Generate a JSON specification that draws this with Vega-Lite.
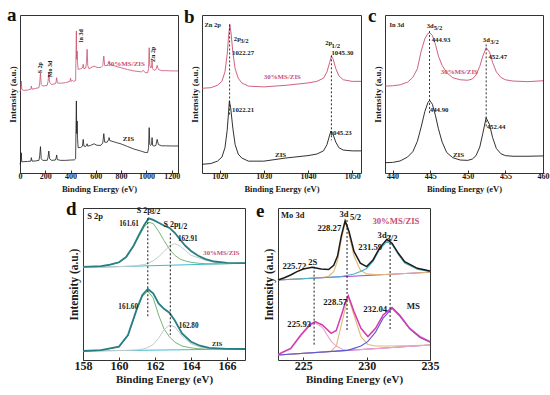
{
 "$schema": "https://vega.github.io/schema/vega-lite/v6.json",
 "padding": {"left": 6, "top": 5, "right": 2, "bottom": 2},
 "background": "white",
 "config": {
  "font": "Liberation Serif",
  "view": {"stroke": "#333", "strokeWidth": 1},
  "axis": {"labelFont": "Liberation Serif", "titleFont": "Liberation Serif", "labelFontWeight": "bold", "titleFontWeight": "bold", "labelColor": "#1a1a1a", "titleColor": "#1a1a1a", "grid": false, "domain": false, "tickColor": "#333", "labelOverlap": false, "labelFlush": false, "format": "d"},
  "text": {"font": "Liberation Serif", "fontWeight": "bold"}
 },
 "datasets": {
  "a": [
   {"x":0,"y":51.5,"s":"MS"},{"x":5,"y":53,"s":"MS"},{"x":10,"y":58.2,"s":"MS"},{"x":14,"y":53,"s":"MS"},{"x":30,"y":52.3,"s":"MS"},{"x":60,"y":52.5,"s":"MS"},{"x":85,"y":53,"s":"MS"},{"x":90,"y":55,"s":"MS"},{"x":95,"y":53,"s":"MS"},{"x":120,"y":53.5,"s":"MS"},{"x":150,"y":54,"s":"MS"},{"x":156,"y":57,"s":"MS"},{"x":162,"y":63.5,"s":"MS"},{"x":168,"y":56,"s":"MS"},{"x":180,"y":55,"s":"MS"},{"x":215,"y":55.5,"s":"MS"},{"x":222,"y":58,"s":"MS"},{"x":228,"y":63.5,"s":"MS"},{"x":234,"y":57.5,"s":"MS"},{"x":250,"y":56,"s":"MS"},{"x":280,"y":56.5,"s":"MS"},{"x":286,"y":58,"s":"MS"},{"x":290,"y":60.3,"s":"MS"},{"x":295,"y":57,"s":"MS"},{"x":320,"y":56.8,"s":"MS"},{"x":360,"y":57.2,"s":"MS"},{"x":395,"y":58,"s":"MS"},{"x":400,"y":60,"s":"MS"},{"x":405,"y":58,"s":"MS"},{"x":415,"y":58.5,"s":"MS"},{"x":425,"y":58,"s":"MS"},{"x":440,"y":58.5,"s":"MS"},{"x":443,"y":75,"s":"MS"},{"x":446,"y":89.9,"s":"MS"},{"x":449,"y":72,"s":"MS"},{"x":452,"y":77.2,"s":"MS"},{"x":455,"y":70,"s":"MS"},{"x":460,"y":65.6,"s":"MS"},{"x":480,"y":66,"s":"MS"},{"x":494,"y":66.5,"s":"MS"},{"x":500,"y":68.8,"s":"MS"},{"x":506,"y":66,"s":"MS"},{"x":520,"y":66.5,"s":"MS"},{"x":526,"y":70,"s":"MS"},{"x":531,"y":78.3,"s":"MS"},{"x":536,"y":68,"s":"MS"},{"x":545,"y":66,"s":"MS"},{"x":560,"y":66.6,"s":"MS"},{"x":585,"y":67.7,"s":"MS"},{"x":610,"y":66.8,"s":"MS"},{"x":640,"y":66.8,"s":"MS"},{"x":655,"y":68,"s":"MS"},{"x":663,"y":74,"s":"MS"},{"x":670,"y":68,"s":"MS"},{"x":690,"y":68,"s":"MS"},{"x":700,"y":69.5,"s":"MS"},{"x":705,"y":70.9,"s":"MS"},{"x":710,"y":69,"s":"MS"},{"x":720,"y":68.5,"s":"MS"},{"x":760,"y":67.5,"s":"MS"},{"x":800,"y":66.6,"s":"MS"},{"x":850,"y":65.5,"s":"MS"},{"x":900,"y":64.6,"s":"MS"},{"x":960,"y":64,"s":"MS"},{"x":975,"y":65,"s":"MS"},{"x":990,"y":63.5,"s":"MS"},{"x":1010,"y":63.5,"s":"MS"},{"x":1017,"y":66,"s":"MS"},{"x":1022,"y":79.3,"s":"MS"},{"x":1027,"y":68,"s":"MS"},{"x":1035,"y":66.5,"s":"MS"},{"x":1041,"y":67,"s":"MS"},{"x":1045,"y":70.9,"s":"MS"},{"x":1049,"y":66,"s":"MS"},{"x":1060,"y":65,"s":"MS"},{"x":1075,"y":65.5,"s":"MS"},{"x":1085,"y":68.1,"s":"MS"},{"x":1095,"y":65.5,"s":"MS"},{"x":1120,"y":64.8,"s":"MS"},{"x":1150,"y":64.8,"s":"MS"},{"x":1200,"y":64.6,"s":"MS"},{"x":1250,"y":64.6,"s":"MS"},
   {"x":0,"y":5.5,"s":"ZIS"},{"x":5,"y":7,"s":"ZIS"},{"x":10,"y":12.8,"s":"ZIS"},{"x":14,"y":7,"s":"ZIS"},{"x":30,"y":7.2,"s":"ZIS"},{"x":60,"y":7.3,"s":"ZIS"},{"x":85,"y":7.5,"s":"ZIS"},{"x":90,"y":9.7,"s":"ZIS"},{"x":95,"y":7.5,"s":"ZIS"},{"x":120,"y":7.6,"s":"ZIS"},{"x":150,"y":8,"s":"ZIS"},{"x":156,"y":11,"s":"ZIS"},{"x":162,"y":16.7,"s":"ZIS"},{"x":168,"y":9,"s":"ZIS"},{"x":180,"y":8,"s":"ZIS"},{"x":215,"y":8,"s":"ZIS"},{"x":222,"y":10,"s":"ZIS"},{"x":228,"y":13.9,"s":"ZIS"},{"x":234,"y":9,"s":"ZIS"},{"x":250,"y":8,"s":"ZIS"},{"x":280,"y":8.2,"s":"ZIS"},{"x":286,"y":9.5,"s":"ZIS"},{"x":290,"y":11.4,"s":"ZIS"},{"x":295,"y":8.5,"s":"ZIS"},{"x":320,"y":8,"s":"ZIS"},{"x":360,"y":8,"s":"ZIS"},{"x":400,"y":8.2,"s":"ZIS"},{"x":430,"y":8.3,"s":"ZIS"},{"x":440,"y":9,"s":"ZIS"},{"x":443,"y":28,"s":"ZIS"},{"x":446,"y":45.6,"s":"ZIS"},{"x":449,"y":25,"s":"ZIS"},{"x":452,"y":32.9,"s":"ZIS"},{"x":455,"y":22,"s":"ZIS"},{"x":460,"y":16,"s":"ZIS"},{"x":480,"y":16.2,"s":"ZIS"},{"x":494,"y":17,"s":"ZIS"},{"x":500,"y":21.3,"s":"ZIS"},{"x":506,"y":17,"s":"ZIS"},{"x":520,"y":16.8,"s":"ZIS"},{"x":526,"y":17.5,"s":"ZIS"},{"x":531,"y":18.5,"s":"ZIS"},{"x":536,"y":17,"s":"ZIS"},{"x":560,"y":17.5,"s":"ZIS"},{"x":585,"y":18.5,"s":"ZIS"},{"x":610,"y":17.5,"s":"ZIS"},{"x":640,"y":17.5,"s":"ZIS"},{"x":655,"y":19,"s":"ZIS"},{"x":663,"y":24.9,"s":"ZIS"},{"x":670,"y":19.5,"s":"ZIS"},{"x":690,"y":19.5,"s":"ZIS"},{"x":700,"y":21,"s":"ZIS"},{"x":705,"y":22.4,"s":"ZIS"},{"x":710,"y":20.5,"s":"ZIS"},{"x":720,"y":20.3,"s":"ZIS"},{"x":760,"y":19.3,"s":"ZIS"},{"x":800,"y":18.4,"s":"ZIS"},{"x":850,"y":16.8,"s":"ZIS"},{"x":900,"y":15.2,"s":"ZIS"},{"x":960,"y":13.8,"s":"ZIS"},{"x":990,"y":13,"s":"ZIS"},{"x":1010,"y":13,"s":"ZIS"},{"x":1017,"y":16,"s":"ZIS"},{"x":1022,"y":28.7,"s":"ZIS"},{"x":1027,"y":18,"s":"ZIS"},{"x":1035,"y":17.5,"s":"ZIS"},{"x":1041,"y":18,"s":"ZIS"},{"x":1045,"y":22.4,"s":"ZIS"},{"x":1049,"y":17.5,"s":"ZIS"},{"x":1060,"y":17,"s":"ZIS"},{"x":1075,"y":17.5,"s":"ZIS"},{"x":1085,"y":21.3,"s":"ZIS"},{"x":1095,"y":18,"s":"ZIS"},{"x":1120,"y":17.2,"s":"ZIS"},{"x":1150,"y":17.2,"s":"ZIS"},{"x":1200,"y":17.1,"s":"ZIS"},{"x":1250,"y":17.1,"s":"ZIS"}
  ],
  "at": [
   {"x":160,"y":66.6,"t":"S 2p","k":"vert"},{"x":239,"y":65.8,"t":"Mo 3d","k":"vert"},{"x":485,"y":86.7,"t":"In 3d","k":"vert"},{"x":1050,"y":75.1,"t":"Zn 2p","k":"vert"},
   {"x":839,"y":68.8,"t":"30%MS/ZIS","k":"ms"},{"x":858,"y":21.8,"t":"ZIS","k":"zis"}
  ],
  "al": [{"x":-102.8,"y":96.2,"t":"a"}],
  "bl": [{"x":1011.9,"y":94.9,"t":"b"}],
  "cl": [{"x":436.74,"y":95.6,"t":"c"}],
  "dl": [{"x":157.06,"y":93.5,"t":"d"}],
  "el": [{"x":221.26,"y":92.2,"t":"e"}],
  "b": [
   {"x":1016,"y":53.6,"s":"MS"},{"x":1018,"y":54,"s":"MS"},{"x":1019.5,"y":55.5,"s":"MS"},{"x":1020.5,"y":58,"s":"MS"},{"x":1021.2,"y":64,"s":"MS"},{"x":1021.7,"y":75,"s":"MS"},{"x":1022,"y":86,"s":"MS"},{"x":1022.3,"y":94,"s":"MS"},{"x":1022.6,"y":88,"s":"MS"},{"x":1023,"y":76,"s":"MS"},{"x":1023.5,"y":66,"s":"MS"},{"x":1024.2,"y":60,"s":"MS"},{"x":1025,"y":57,"s":"MS"},{"x":1026.5,"y":55,"s":"MS"},{"x":1030,"y":54.5,"s":"MS"},{"x":1035,"y":55.5,"s":"MS"},{"x":1040,"y":57,"s":"MS"},{"x":1042,"y":58,"s":"MS"},{"x":1043.5,"y":60,"s":"MS"},{"x":1044.3,"y":64,"s":"MS"},{"x":1044.9,"y":70,"s":"MS"},{"x":1045.3,"y":74,"s":"MS"},{"x":1045.7,"y":72,"s":"MS"},{"x":1046.3,"y":66,"s":"MS"},{"x":1047,"y":61.5,"s":"MS"},{"x":1048,"y":59,"s":"MS"},{"x":1050,"y":58,"s":"MS"},{"x":1052,"y":58,"s":"MS"},
   {"x":1016,"y":5.5,"s":"ZIS"},{"x":1018,"y":6,"s":"ZIS"},{"x":1019.5,"y":7.5,"s":"ZIS"},{"x":1020.5,"y":10,"s":"ZIS"},{"x":1021.2,"y":16,"s":"ZIS"},{"x":1021.7,"y":27,"s":"ZIS"},{"x":1022,"y":38,"s":"ZIS"},{"x":1022.2,"y":45.6,"s":"ZIS"},{"x":1022.5,"y":41,"s":"ZIS"},{"x":1023,"y":28,"s":"ZIS"},{"x":1023.5,"y":18,"s":"ZIS"},{"x":1024.2,"y":12,"s":"ZIS"},{"x":1025,"y":9.5,"s":"ZIS"},{"x":1026.5,"y":7.5,"s":"ZIS"},{"x":1030,"y":7.5,"s":"ZIS"},{"x":1035,"y":9.5,"s":"ZIS"},{"x":1040,"y":11,"s":"ZIS"},{"x":1042,"y":12,"s":"ZIS"},{"x":1043.5,"y":14,"s":"ZIS"},{"x":1044.3,"y":18,"s":"ZIS"},{"x":1044.9,"y":24,"s":"ZIS"},{"x":1045.2,"y":26.6,"s":"ZIS"},{"x":1045.6,"y":25,"s":"ZIS"},{"x":1046.3,"y":19.5,"s":"ZIS"},{"x":1047,"y":16,"s":"ZIS"},{"x":1048,"y":14.5,"s":"ZIS"},{"x":1050,"y":14,"s":"ZIS"},{"x":1052,"y":14,"s":"ZIS"}
  ],
  "br": [{"x":1022.25,"y":94,"y2":36},{"x":1045.3,"y":74.5,"y2":20.7}],
  "bt": [
   {"x":1018.4,"y":93.4,"t":"Zn 2p","k":"hd"},
   {"x":1024.0,"y":85.1,"t":"2p","k":"lab"},{"x":1025.6,"y":83.5,"t":"3/2","k":"sub"},
   {"x":1025.3,"y":75.8,"t":"1022.27","k":"val"},
   {"x":1044.7,"y":82.1,"t":"2p","k":"lab"},{"x":1046.3,"y":80.6,"t":"1/2","k":"sub"},
   {"x":1047.8,"y":75.8,"t":"1045.30","k":"val"},
   {"x":1034.2,"y":60.8,"t":"30%MS/ZIS","k":"ms"},
   {"x":1025.3,"y":39.9,"t":"1022.21","k":"val"},
   {"x":1047.4,"y":25.1,"t":"1045.23","k":"val"},
   {"x":1033.8,"y":11.4,"t":"ZIS","k":"zis"}
  ],
  "c": [
   {"x":439,"y":55,"s":"MS"},{"x":440,"y":55.2,"s":"MS"},{"x":441,"y":55.8,"s":"MS"},{"x":442,"y":57.5,"s":"MS"},{"x":442.7,"y":60.5,"s":"MS"},{"x":443.3,"y":66,"s":"MS"},{"x":443.8,"y":77,"s":"MS"},{"x":444.3,"y":85,"s":"MS"},{"x":444.7,"y":88.3,"s":"MS"},{"x":444.95,"y":88.8,"s":"MS"},{"x":445.3,"y":87,"s":"MS"},{"x":445.7,"y":81.5,"s":"MS"},{"x":446.1,"y":74,"s":"MS"},{"x":446.6,"y":68,"s":"MS"},{"x":447.2,"y":63.5,"s":"MS"},{"x":448,"y":60.3,"s":"MS"},{"x":449,"y":59,"s":"MS"},{"x":450,"y":58.7,"s":"MS"},{"x":450.6,"y":59.5,"s":"MS"},{"x":451.1,"y":62,"s":"MS"},{"x":451.6,"y":67.5,"s":"MS"},{"x":452,"y":74,"s":"MS"},{"x":452.45,"y":79.3,"s":"MS"},{"x":452.9,"y":76.5,"s":"MS"},{"x":453.3,"y":70,"s":"MS"},{"x":453.8,"y":64,"s":"MS"},{"x":454.4,"y":60.5,"s":"MS"},{"x":455,"y":59,"s":"MS"},{"x":456,"y":58.2,"s":"MS"},{"x":458,"y":57.8,"s":"MS"},{"x":460,"y":58.4,"s":"MS"},
   {"x":439,"y":6.5,"s":"ZIS"},{"x":440,"y":6.7,"s":"ZIS"},{"x":441,"y":7.6,"s":"ZIS"},{"x":442,"y":10.1,"s":"ZIS"},{"x":442.7,"y":13.5,"s":"ZIS"},{"x":443.3,"y":20,"s":"ZIS"},{"x":443.8,"y":29,"s":"ZIS"},{"x":444.3,"y":39,"s":"ZIS"},{"x":444.7,"y":44.5,"s":"ZIS"},{"x":444.93,"y":46,"s":"ZIS"},{"x":445.3,"y":43.5,"s":"ZIS"},{"x":445.7,"y":36.5,"s":"ZIS"},{"x":446.1,"y":28,"s":"ZIS"},{"x":446.6,"y":19.5,"s":"ZIS"},{"x":447.2,"y":13,"s":"ZIS"},{"x":448,"y":9.7,"s":"ZIS"},{"x":449,"y":8.2,"s":"ZIS"},{"x":450,"y":8,"s":"ZIS"},{"x":450.6,"y":8.8,"s":"ZIS"},{"x":451.1,"y":11,"s":"ZIS"},{"x":451.6,"y":16.5,"s":"ZIS"},{"x":452,"y":25,"s":"ZIS"},{"x":452.44,"y":35,"s":"ZIS"},{"x":452.9,"y":30.5,"s":"ZIS"},{"x":453.3,"y":22.5,"s":"ZIS"},{"x":453.8,"y":15.5,"s":"ZIS"},{"x":454.4,"y":12.2,"s":"ZIS"},{"x":455,"y":11,"s":"ZIS"},{"x":456,"y":10.6,"s":"ZIS"},{"x":458,"y":10.6,"s":"ZIS"},{"x":460,"y":10.8,"s":"ZIS"}
  ],
  "cr": [{"x":444.92,"y":89.9,"y2":37.1},{"x":452.45,"y":81.4,"y2":28.7}],
  "ct": [
   {"x":440.57,"y":93.7,"t":"In 3d","k":"hd"},
   {"x":445.0,"y":93.0,"t":"3d","k":"lab"},{"x":446.05,"y":91.6,"t":"5/2","k":"sub"},
   {"x":446.45,"y":84.2,"t":"444.93","k":"val"},
   {"x":452.47,"y":84.2,"t":"3d","k":"lab"},{"x":453.55,"y":82.7,"t":"3/2","k":"sub"},
   {"x":453.99,"y":73.6,"t":"452.47","k":"val"},
   {"x":448.88,"y":64.1,"t":"30%MS/ZIS","k":"ms"},
   {"x":446.2,"y":39.9,"t":"444.90","k":"val"},
   {"x":453.76,"y":29.3,"t":"452.44","k":"val"},
   {"x":448.78,"y":11.4,"t":"ZIS","k":"zis"}
  ],
  "dc": [
   {"x":158,"y":59.6,"s":"Bu"},{"x":167,"y":62.4,"s":"Bu"},
   {"x":158,"y":59.7,"s":"G1u"},{"x":159,"y":60.3,"s":"G1u"},{"x":159.5,"y":61.3,"s":"G1u"},{"x":160,"y":62.8,"s":"G1u"},{"x":160.4,"y":66,"s":"G1u"},{"x":160.8,"y":73,"s":"G1u"},{"x":161.1,"y":79.5,"s":"G1u"},{"x":161.4,"y":85.8,"s":"G1u"},{"x":161.65,"y":88.8,"s":"G1u"},{"x":161.9,"y":88,"s":"G1u"},{"x":162.2,"y":83,"s":"G1u"},{"x":162.5,"y":77,"s":"G1u"},{"x":162.8,"y":71.5,"s":"G1u"},{"x":163.1,"y":67.5,"s":"G1u"},{"x":163.4,"y":65,"s":"G1u"},{"x":163.7,"y":63.8,"s":"G1u"},{"x":164,"y":63,"s":"G1u"},{"x":164.4,"y":62.4,"s":"G1u"},{"x":164.8,"y":62.1,"s":"G1u"},{"x":165.3,"y":62,"s":"G1u"},{"x":166,"y":62.1,"s":"G1u"},{"x":167,"y":62.4,"s":"G1u"},
   {"x":158,"y":59.6,"s":"G2u"},{"x":160,"y":60.2,"s":"G2u"},{"x":160.8,"y":60.6,"s":"G2u"},{"x":161.4,"y":61.5,"s":"G2u"},{"x":161.65,"y":62.5,"s":"G2u"},{"x":161.9,"y":64,"s":"G2u"},{"x":162.2,"y":66.5,"s":"G2u"},{"x":162.5,"y":70,"s":"G2u"},{"x":162.8,"y":73.5,"s":"G2u"},{"x":163.1,"y":75,"s":"G2u"},{"x":163.4,"y":73.5,"s":"G2u"},{"x":163.7,"y":70.5,"s":"G2u"},{"x":164,"y":67.5,"s":"G2u"},{"x":164.4,"y":66,"s":"G2u"},{"x":164.8,"y":64.3,"s":"G2u"},{"x":165.3,"y":63,"s":"G2u"},{"x":166,"y":62.2,"s":"G2u"},{"x":167,"y":62.4,"s":"G2u"},
   {"x":158,"y":5.8,"s":"Bl"},{"x":167,"y":7.1,"s":"Bl"},
   {"x":158,"y":5.8,"s":"G1l"},{"x":159,"y":6.2,"s":"G1l"},{"x":160,"y":8.5,"s":"G1l"},{"x":160.5,"y":15.8,"s":"G1l"},{"x":161,"y":32.8,"s":"G1l"},{"x":161.3,"y":41,"s":"G1l"},{"x":161.6,"y":44.5,"s":"G1l"},{"x":161.9,"y":40,"s":"G1l"},{"x":162.2,"y":29,"s":"G1l"},{"x":162.5,"y":20,"s":"G1l"},{"x":162.8,"y":15,"s":"G1l"},{"x":163.1,"y":11.5,"s":"G1l"},{"x":163.5,"y":9,"s":"G1l"},{"x":164,"y":7.8,"s":"G1l"},{"x":164.5,"y":7.2,"s":"G1l"},{"x":165,"y":7,"s":"G1l"},{"x":166,"y":7,"s":"G1l"},{"x":167,"y":7.1,"s":"G1l"},
   {"x":158,"y":5.8,"s":"G2l"},{"x":160.5,"y":6.2,"s":"G2l"},{"x":161,"y":6.5,"s":"G2l"},{"x":161.3,"y":7,"s":"G2l"},{"x":161.6,"y":8,"s":"G2l"},{"x":161.9,"y":10,"s":"G2l"},{"x":162.2,"y":14,"s":"G2l"},{"x":162.5,"y":19.5,"s":"G2l"},{"x":162.8,"y":22.5,"s":"G2l"},{"x":163.1,"y":21.5,"s":"G2l"},{"x":163.5,"y":15.5,"s":"G2l"},{"x":164,"y":10.5,"s":"G2l"},{"x":164.5,"y":8.3,"s":"G2l"},{"x":165,"y":7.3,"s":"G2l"},{"x":166,"y":7,"s":"G2l"},{"x":167,"y":7.1,"s":"G2l"}
  ],
  "de": [
   {"x":158,"y":60,"s":"Eu"},{"x":159,"y":60.5,"s":"Eu"},{"x":159.5,"y":61.5,"s":"Eu"},{"x":160,"y":63,"s":"Eu"},{"x":160.4,"y":66.5,"s":"Eu"},{"x":160.8,"y":73.5,"s":"Eu"},{"x":161.1,"y":80.5,"s":"Eu"},{"x":161.4,"y":87,"s":"Eu"},{"x":161.65,"y":91.3,"s":"Eu"},{"x":161.9,"y":90.3,"s":"Eu"},{"x":162.2,"y":88.5,"s":"Eu"},{"x":162.5,"y":86.7,"s":"Eu"},{"x":162.8,"y":85.2,"s":"Eu"},{"x":163.1,"y":82,"s":"Eu"},{"x":163.4,"y":77.5,"s":"Eu"},{"x":163.7,"y":73.5,"s":"Eu"},{"x":164,"y":70.3,"s":"Eu"},{"x":164.4,"y":67.2,"s":"Eu"},{"x":164.8,"y":65,"s":"Eu"},{"x":165.3,"y":63.5,"s":"Eu"},{"x":166,"y":62.6,"s":"Eu"},{"x":167,"y":62.5,"s":"Eu"},
   {"x":158,"y":5.8,"s":"El"},{"x":159,"y":6.4,"s":"El"},{"x":160,"y":8.6,"s":"El"},{"x":160.5,"y":16.1,"s":"El"},{"x":161,"y":33.3,"s":"El"},{"x":161.3,"y":41.9,"s":"El"},{"x":161.6,"y":45.8,"s":"El"},{"x":161.9,"y":43,"s":"El"},{"x":162.2,"y":36.5,"s":"El"},{"x":162.5,"y":33,"s":"El"},{"x":162.8,"y":30.5,"s":"El"},{"x":163.1,"y":25.5,"s":"El"},{"x":163.5,"y":17.2,"s":"El"},{"x":164,"y":11.8,"s":"El"},{"x":164.5,"y":9.2,"s":"El"},{"x":165,"y":7.8,"s":"El"},{"x":166,"y":7.2,"s":"El"},{"x":167,"y":7.1,"s":"El"}
  ],
  "dr": [{"x":161.6,"y":91.4,"y2":26.9},{"x":162.85,"y":81.7,"y2":16.1}],
  "dt": [
   {"x":158.67,"y":93.1,"t":"S 2p","k":"hd"},
   {"x":161.4,"y":96.3,"t":"S 2p","k":"lab"},{"x":162.02,"y":95.2,"t":"3/2","k":"sub"},
   {"x":160.56,"y":87.7,"t":"161.61","k":"val"},
   {"x":162.89,"y":87.1,"t":"S 2p","k":"lab"},{"x":163.52,"y":86,"t":"1/2","k":"sub"},
   {"x":163.82,"y":78.1,"t":"162.91","k":"val"},
   {"x":165.69,"y":68.8,"t":"30%MS/ZIS","k":"ms"},
   {"x":160.51,"y":34,"t":"161.60","k":"val"},
   {"x":163.87,"y":22.2,"t":"162.80","k":"val"},
   {"x":165.45,"y":10.3,"t":"ZIS","k":"zis"}
  ],
  "ec": [
   {"x":223,"y":51.6,"s":"Bu"},{"x":235,"y":56.6,"s":"Bu"},
   {"x":223,"y":51.6,"s":"Tu"},{"x":226.5,"y":53.2,"s":"Tu"},{"x":227,"y":54,"s":"Tu"},{"x":227.4,"y":57,"s":"Tu"},{"x":227.7,"y":64,"s":"Tu"},{"x":228,"y":77.5,"s":"Tu"},{"x":228.3,"y":88.8,"s":"Tu"},{"x":228.6,"y":81.5,"s":"Tu"},{"x":229,"y":67,"s":"Tu"},{"x":229.5,"y":58,"s":"Tu"},{"x":230,"y":55.5,"s":"Tu"},{"x":231,"y":55,"s":"Tu"},{"x":233,"y":55.8,"s":"Tu"},{"x":235,"y":56.6,"s":"Tu"},
   {"x":223,"y":51.6,"s":"Cu"},{"x":226,"y":52.9,"s":"Cu"},{"x":228,"y":53.8,"s":"Cu"},{"x":229,"y":55.5,"s":"Cu"},{"x":229.5,"y":57,"s":"Cu"},{"x":230,"y":59,"s":"Cu"},{"x":230.5,"y":63.5,"s":"Cu"},{"x":231,"y":71,"s":"Cu"},{"x":231.6,"y":76.5,"s":"Cu"},{"x":232,"y":74.5,"s":"Cu"},{"x":232.5,"y":68,"s":"Cu"},{"x":233,"y":62.5,"s":"Cu"},{"x":234,"y":58.5,"s":"Cu"},{"x":235,"y":57,"s":"Cu"},
   {"x":223,"y":3.2,"s":"Bl"},{"x":235,"y":9.7,"s":"Bl"},
   {"x":223,"y":3.4,"s":"Pl"},{"x":224,"y":7,"s":"Pl"},{"x":224.8,"y":15.5,"s":"Pl"},{"x":225.5,"y":22,"s":"Pl"},{"x":225.93,"y":24,"s":"Pl"},{"x":226.5,"y":21,"s":"Pl"},{"x":227.2,"y":12,"s":"Pl"},{"x":227.6,"y":9,"s":"Pl"},{"x":228.1,"y":6.8,"s":"Pl"},{"x":228.6,"y":6.5,"s":"Pl"},{"x":229.5,"y":6.7,"s":"Pl"},{"x":235,"y":9.7,"s":"Pl"},
   {"x":223,"y":3.2,"s":"Tl"},{"x":226.5,"y":5.1,"s":"Tl"},{"x":227.2,"y":5.8,"s":"Tl"},{"x":227.6,"y":9,"s":"Tl"},{"x":228.1,"y":26,"s":"Tl"},{"x":228.3,"y":33,"s":"Tl"},{"x":228.55,"y":40.5,"s":"Tl"},{"x":229,"y":29,"s":"Tl"},{"x":229.55,"y":15,"s":"Tl"},{"x":230.1,"y":10,"s":"Tl"},{"x":230.7,"y":9,"s":"Tl"},{"x":232,"y":9,"s":"Tl"},{"x":233,"y":9.2,"s":"Tl"},{"x":235,"y":9.7,"s":"Tl"},
   {"x":223,"y":3.2,"s":"Vl"},{"x":228.5,"y":6.2,"s":"Vl"},{"x":229,"y":7.5,"s":"Vl"},{"x":229.55,"y":9,"s":"Vl"},{"x":230.1,"y":12,"s":"Vl"},{"x":230.7,"y":18,"s":"Vl"},{"x":231.3,"y":27,"s":"Vl"},{"x":232,"y":33.3,"s":"Vl"},{"x":232.6,"y":28.5,"s":"Vl"},{"x":233.4,"y":20,"s":"Vl"},{"x":234.2,"y":14.5,"s":"Vl"},{"x":235,"y":11.5,"s":"Vl"}
  ],
  "ee": [
   {"x":223,"y":51.6,"s":"Eu"},{"x":223.5,"y":53,"s":"Eu"},{"x":224,"y":54.8,"s":"Eu"},{"x":224.5,"y":57,"s":"Eu"},{"x":225,"y":58.7,"s":"Eu"},{"x":225.7,"y":59.8,"s":"Eu"},{"x":226.4,"y":58.7,"s":"Eu"},{"x":227,"y":58.3,"s":"Eu"},{"x":227.4,"y":61,"s":"Eu"},{"x":227.7,"y":67,"s":"Eu"},{"x":228,"y":80,"s":"Eu"},{"x":228.3,"y":89.7,"s":"Eu"},{"x":228.6,"y":83,"s":"Eu"},{"x":229,"y":70,"s":"Eu"},{"x":229.5,"y":62.4,"s":"Eu"},{"x":230,"y":60.2,"s":"Eu"},{"x":230.5,"y":64.5,"s":"Eu"},{"x":231,"y":72,"s":"Eu"},{"x":231.6,"y":77.8,"s":"Eu"},{"x":232,"y":75.3,"s":"Eu"},{"x":232.5,"y":68.8,"s":"Eu"},{"x":233,"y":63.4,"s":"Eu"},{"x":234,"y":59.1,"s":"Eu"},{"x":235,"y":57.4,"s":"Eu"},
   {"x":223,"y":3.6,"s":"El"},{"x":224,"y":7.5,"s":"El"},{"x":224.8,"y":16.1,"s":"El"},{"x":225.5,"y":22.6,"s":"El"},{"x":225.93,"y":24.7,"s":"El"},{"x":226.5,"y":22.6,"s":"El"},{"x":227.2,"y":17.2,"s":"El"},{"x":227.6,"y":19,"s":"El"},{"x":228.1,"y":31.2,"s":"El"},{"x":228.3,"y":37,"s":"El"},{"x":228.55,"y":41.5,"s":"El"},{"x":229,"y":31.2,"s":"El"},{"x":229.55,"y":20.4,"s":"El"},{"x":230.1,"y":15.1,"s":"El"},{"x":230.7,"y":20.4,"s":"El"},{"x":231.3,"y":29,"s":"El"},{"x":232,"y":33.8,"s":"El"},{"x":232.6,"y":29,"s":"El"},{"x":233.4,"y":20.4,"s":"El"},{"x":234.2,"y":15.1,"s":"El"},{"x":235,"y":11.8,"s":"El"}
  ],
  "er": [{"x":225.85,"y":60.2,"y2":9.7},{"x":228.45,"y":90.3,"y2":18.3},{"x":231.85,"y":80.6,"y2":19.4}],
  "et": [
   {"x":224.16,"y":93.5,"t":"Mo 3d","k":"hd"},
   {"x":228.21,"y":94.2,"t":"3d","k":"lab"},{"x":229.12,"y":92,"t":"5/2","k":"sub"},
   {"x":227.05,"y":85,"t":"228.27","k":"val"},
   {"x":232.31,"y":89.9,"t":"30%MS/ZIS","k":"ms"},
   {"x":231.22,"y":80.6,"t":"3d","k":"lab"},{"x":232.0,"y":78.9,"t":"3/2","k":"sub"},
   {"x":230.28,"y":73.1,"t":"231.59","k":"val"},
   {"x":225.74,"y":63.4,"t":"2S","k":"lab"},
   {"x":224.29,"y":60.9,"t":"225.72","k":"val"},
   {"x":227.51,"y":37.2,"t":"228.57","k":"val"},
   {"x":230.67,"y":32.9,"t":"232.04","k":"val"},
   {"x":233.69,"y":35,"t":"MS","k":"zis"},
   {"x":224.68,"y":23.2,"t":"225.93","k":"val"}
  ]
 },
 "spacing": 5,
 "resolve": {"scale": {"color": "independent", "size": "independent"}},
 "vconcat": [
  {
   "spacing": 24,
   "bounds": "flush",
   "resolve": {"scale": {"color": "independent", "size": "independent"}},
   "hconcat": [
    {
     "width": 158, "height": 158,
     "layer": [
      {"data": {"name": "a"}, "mark": {"type": "line", "strokeWidth": 0.8},
       "encoding": {
        "x": {"field": "x", "type": "quantitative", "scale": {"domain": [0, 1250], "nice": false, "zero": false}, "axis": {"title": "Binding Energy (eV)", "values": [0, 200, 400, 600, 800, 1000, 1200], "tickCount": 30, "labelOverlap": false, "tickSize": -3, "labelFontSize": 8, "titleFontSize": 8.5, "labelPadding": 2.5, "titlePadding": 4}},
        "y": {"field": "y", "type": "quantitative", "scale": {"domain": [0, 100], "nice": false}, "axis": {"title": "Intensity (a.u.)", "labels": false, "ticks": false, "titleFontSize": 9, "titlePadding": 3}},
        "color": {"field": "s", "type": "nominal", "scale": {"domain": ["MS", "ZIS", "ms", "zis"], "range": ["#c95070", "#1a1a1a", "#c95070", "#1a1a1a"]}, "legend": null}}},
      {"data": {"name": "at"}, "transform": [{"filter": "datum.k == 'vert'"}], "mark": {"type": "text", "angle": 270, "fontSize": 6, "color": "#1a1a1a", "baseline": "middle"},
       "encoding": {"x": {"field": "x", "type": "quantitative"}, "y": {"field": "y", "type": "quantitative"}, "text": {"field": "t"}}},
      {"data": {"name": "at"}, "transform": [{"filter": "datum.k != 'vert'"}], "mark": {"type": "text", "fontSize": 7, "baseline": "middle"},
       "encoding": {"x": {"field": "x", "type": "quantitative"}, "y": {"field": "y", "type": "quantitative"}, "text": {"field": "t"},
        "color": {"field": "k", "type": "nominal", "scale": {"domain": ["MS", "ZIS", "ms", "zis"], "range": ["#c95070", "#1a1a1a", "#c95070", "#1a1a1a"]}, "legend": null}}},
      {"data": {"name": "al"}, "mark": {"type": "text", "fontSize": 19, "align": "left", "baseline": "alphabetic", "color": "#111"},
       "encoding": {"x": {"field": "x", "type": "quantitative", "scale": {"domain": [0, 1250], "nice": false, "zero": false}}, "y": {"field": "y", "type": "quantitative", "scale": {"domain": [0, 100], "nice": false}}, "text": {"field": "t"}}}
     ]
    },
    {
     "width": 159, "height": 158,
     "layer": [
      {"data": {"name": "b"}, "mark": {"type": "line", "strokeWidth": 0.9},
       "encoding": {
        "x": {"field": "x", "type": "quantitative", "scale": {"domain": [1016, 1052], "nice": false, "zero": false}, "axis": {"title": "Binding Energy (eV)", "values": [1020, 1030, 1040, 1050], "tickCount": 30, "labelOverlap": false, "tickSize": -3, "labelFontSize": 8, "titleFontSize": 8.5, "labelPadding": 2.5, "titlePadding": 4}},
        "y": {"field": "y", "type": "quantitative", "scale": {"domain": [0, 100], "nice": false}, "axis": {"title": "Intensity (a.u.)", "labels": false, "ticks": false, "titleFontSize": 9, "titlePadding": 3}},
        "color": {"field": "s", "type": "nominal", "scale": {"domain": ["MS", "ZIS", "hd", "lab", "sub", "val", "ms", "zis"], "range": ["#c95070", "#1a1a1a", "#1a1a1a", "#1a1a1a", "#1a1a1a", "#1a1a1a", "#c95070", "#1a1a1a"]}, "legend": null}}},
      {"data": {"name": "br"}, "mark": {"type": "rule", "strokeDash": [2, 2], "color": "#1a1a1a", "strokeWidth": 0.9},
       "encoding": {"x": {"field": "x", "type": "quantitative"}, "y": {"field": "y", "type": "quantitative"}, "y2": {"field": "y2"}}},
      {"data": {"name": "bt"}, "mark": {"type": "text", "baseline": "middle"},
       "encoding": {"x": {"field": "x", "type": "quantitative"}, "y": {"field": "y", "type": "quantitative"}, "text": {"field": "t"},
        "color": {"field": "k", "type": "nominal", "scale": {"domain": ["MS", "ZIS", "hd", "lab", "sub", "val", "ms", "zis"], "range": ["#c95070", "#1a1a1a", "#1a1a1a", "#1a1a1a", "#1a1a1a", "#1a1a1a", "#c95070", "#1a1a1a"]}, "legend": null},
        "size": {"field": "k", "type": "ordinal", "scale": {"domain": ["hd", "lab", "sub", "val", "ms", "zis"], "range": [6.5, 7, 5, 5.8, 7, 7]}, "legend": null}}},
      {"data": {"name": "bl"}, "mark": {"type": "text", "fontSize": 19, "align": "left", "baseline": "alphabetic", "color": "#111"},
       "encoding": {"x": {"field": "x", "type": "quantitative", "scale": {"domain": [1016, 1052], "nice": false, "zero": false}}, "y": {"field": "y", "type": "quantitative", "scale": {"domain": [0, 100], "nice": false}}, "text": {"field": "t"}}}
     ]
    },
    {
     "width": 158, "height": 158,
     "layer": [
      {"data": {"name": "c"}, "mark": {"type": "line", "strokeWidth": 0.9},
       "encoding": {
        "x": {"field": "x", "type": "quantitative", "scale": {"domain": [439, 460], "nice": false, "zero": false}, "axis": {"title": "Binding Energy (eV)", "values": [440, 445, 450, 455, 460], "tickCount": 30, "labelOverlap": false, "tickSize": -3, "labelFontSize": 8, "titleFontSize": 8.5, "labelPadding": 2.5, "titlePadding": 4}},
        "y": {"field": "y", "type": "quantitative", "scale": {"domain": [0, 100], "nice": false}, "axis": {"title": "Intensity (a.u.)", "labels": false, "ticks": false, "titleFontSize": 9, "titlePadding": 3}},
        "color": {"field": "s", "type": "nominal", "scale": {"domain": ["MS", "ZIS", "hd", "lab", "sub", "val", "ms", "zis"], "range": ["#c95070", "#1a1a1a", "#1a1a1a", "#1a1a1a", "#1a1a1a", "#1a1a1a", "#c95070", "#1a1a1a"]}, "legend": null}}},
      {"data": {"name": "cr"}, "mark": {"type": "rule", "strokeDash": [2, 2], "color": "#1a1a1a", "strokeWidth": 0.9},
       "encoding": {"x": {"field": "x", "type": "quantitative"}, "y": {"field": "y", "type": "quantitative"}, "y2": {"field": "y2"}}},
      {"data": {"name": "ct"}, "mark": {"type": "text", "baseline": "middle"},
       "encoding": {"x": {"field": "x", "type": "quantitative"}, "y": {"field": "y", "type": "quantitative"}, "text": {"field": "t"},
        "color": {"field": "k", "type": "nominal", "scale": {"domain": ["MS", "ZIS", "hd", "lab", "sub", "val", "ms", "zis"], "range": ["#c95070", "#1a1a1a", "#1a1a1a", "#1a1a1a", "#1a1a1a", "#1a1a1a", "#c95070", "#1a1a1a"]}, "legend": null},
        "size": {"field": "k", "type": "ordinal", "scale": {"domain": ["hd", "lab", "sub", "val", "ms", "zis"], "range": [6.5, 7, 5, 5.8, 7, 7]}, "legend": null}}},
      {"data": {"name": "cl"}, "mark": {"type": "text", "fontSize": 19, "align": "left", "baseline": "alphabetic", "color": "#111"},
       "encoding": {"x": {"field": "x", "type": "quantitative", "scale": {"domain": [439, 460], "nice": false, "zero": false}}, "y": {"field": "y", "type": "quantitative", "scale": {"domain": [0, 100], "nice": false}}, "text": {"field": "t"}}}
     ]
    }
   ]
  },
  {
   "spacing": 33,
   "bounds": "flush",
   "resolve": {"scale": {"color": "independent", "size": "independent"}},
   "hconcat": [
    {"width": 30, "height": 20, "data": {"values": []}, "mark": {"type": "point", "opacity": 0}, "view": {"stroke": null}},
    {
     "width": 162, "height": 152,
     "layer": [
      {"data": {"name": "dc"}, "mark": {"type": "line", "strokeWidth": 1},
       "encoding": {
        "x": {"field": "x", "type": "quantitative", "scale": {"domain": [158, 167], "nice": false, "zero": false}, "axis": {"title": "Binding Energy (eV)", "values": [158, 160, 162, 164, 166], "tickCount": 30, "labelOverlap": false, "tickSize": -3, "labelFontSize": 12, "titleFontSize": 11, "labelPadding": 3, "titlePadding": 2}},
        "y": {"field": "y", "type": "quantitative", "scale": {"domain": [0, 98], "nice": false}, "axis": {"title": "Intensity (a.u.)", "labels": false, "ticks": false, "titleFontSize": 11.5, "titlePadding": 4}},
        "color": {"field": "s", "type": "nominal", "scale": {"domain": ["Bu", "G1u", "G2u", "Eu", "Bl", "G1l", "G2l", "El", "hd", "lab", "sub", "val", "ms", "zis"], "range": ["#3fbccc", "#78b478", "#c3cbcb", "#267f82", "#3fbccc", "#78b478", "#c3cbcb", "#267f82", "#1a1a1a", "#1a1a1a", "#1a1a1a", "#1a1a1a", "#c95070", "#1a1a1a"]}, "legend": null}}},
      {"data": {"name": "de"}, "mark": {"type": "line", "strokeWidth": 1.8},
       "encoding": {"x": {"field": "x", "type": "quantitative"}, "y": {"field": "y", "type": "quantitative"},
        "color": {"field": "s", "type": "nominal", "scale": {"domain": ["Bu", "G1u", "G2u", "Eu", "Bl", "G1l", "G2l", "El", "hd", "lab", "sub", "val", "ms", "zis"], "range": ["#3fbccc", "#78b478", "#c3cbcb", "#267f82", "#3fbccc", "#78b478", "#c3cbcb", "#267f82", "#1a1a1a", "#1a1a1a", "#1a1a1a", "#1a1a1a", "#c95070", "#1a1a1a"]}, "legend": null}}},
      {"data": {"name": "dr"}, "mark": {"type": "rule", "strokeDash": [2, 2], "color": "#1a1a1a", "strokeWidth": 1},
       "encoding": {"x": {"field": "x", "type": "quantitative"}, "y": {"field": "y", "type": "quantitative"}, "y2": {"field": "y2"}}},
      {"data": {"name": "dt"}, "mark": {"type": "text", "baseline": "middle"},
       "encoding": {"x": {"field": "x", "type": "quantitative"}, "y": {"field": "y", "type": "quantitative"}, "text": {"field": "t"},
        "color": {"field": "k", "type": "nominal", "scale": {"domain": ["Bu", "G1u", "G2u", "Eu", "Bl", "G1l", "G2l", "El", "hd", "lab", "sub", "val", "ms", "zis"], "range": ["#3fbccc", "#78b478", "#c3cbcb", "#267f82", "#3fbccc", "#78b478", "#c3cbcb", "#267f82", "#1a1a1a", "#1a1a1a", "#1a1a1a", "#1a1a1a", "#c95070", "#1a1a1a"]}, "legend": null},
        "size": {"field": "k", "type": "ordinal", "scale": {"domain": ["hd", "lab", "sub", "val", "ms", "zis"], "range": [8.5, 6.3, 4.5, 6, 8, 7.5]}, "legend": null}}},
      {"data": {"name": "dl"}, "mark": {"type": "text", "fontSize": 19, "align": "left", "baseline": "alphabetic", "color": "#111"},
       "encoding": {"x": {"field": "x", "type": "quantitative", "scale": {"domain": [158, 167], "nice": false, "zero": false}}, "y": {"field": "y", "type": "quantitative", "scale": {"domain": [0, 98], "nice": false}}, "text": {"field": "t"}}}
     ]
    },
    {
     "width": 152, "height": 152,
     "layer": [
      {"data": {"name": "ec"}, "mark": {"type": "line", "strokeWidth": 1.1},
       "encoding": {
        "x": {"field": "x", "type": "quantitative", "scale": {"domain": [223, 235], "nice": false, "zero": false}, "axis": {"title": "Binding Energy (eV)", "values": [225, 230, 235], "tickCount": 30, "labelOverlap": false, "tickSize": -3, "labelFontSize": 12, "titleFontSize": 11, "labelPadding": 3, "titlePadding": 2}},
        "y": {"field": "y", "type": "quantitative", "scale": {"domain": [0, 98], "nice": false}, "axis": {"title": "Intensity (a.u.)", "labels": false, "ticks": false, "titleFontSize": 11.5, "titlePadding": 4}},
        "color": {"field": "s", "type": "nominal", "scale": {"domain": ["Bu", "Tu", "Cu", "Eu", "Bl", "Pl", "Tl", "Vl", "El", "hd", "lab", "sub", "val", "ms", "zis"], "range": ["#b23fcf", "#e2b878", "#45b3c8", "#1a1a1a", "#b23fcf", "#eaa6cc", "#e2b878", "#5c5cd0", "#d23cb0", "#1a1a1a", "#1a1a1a", "#1a1a1a", "#1a1a1a", "#c95070", "#1a1a1a"]}, "legend": null}}},
      {"data": {"name": "ee"}, "mark": {"type": "line", "strokeWidth": 1.5},
       "encoding": {"x": {"field": "x", "type": "quantitative"}, "y": {"field": "y", "type": "quantitative"},
        "color": {"field": "s", "type": "nominal", "scale": {"domain": ["Bu", "Tu", "Cu", "Eu", "Bl", "Pl", "Tl", "Vl", "El", "hd", "lab", "sub", "val", "ms", "zis"], "range": ["#b23fcf", "#e2b878", "#45b3c8", "#1a1a1a", "#b23fcf", "#eaa6cc", "#e2b878", "#5c5cd0", "#d23cb0", "#1a1a1a", "#1a1a1a", "#1a1a1a", "#1a1a1a", "#c95070", "#1a1a1a"]}, "legend": null}}},
      {"data": {"name": "er"}, "mark": {"type": "rule", "strokeDash": [2, 2], "color": "#1a1a1a", "strokeWidth": 1},
       "encoding": {"x": {"field": "x", "type": "quantitative"}, "y": {"field": "y", "type": "quantitative"}, "y2": {"field": "y2"}}},
      {"data": {"name": "et"}, "mark": {"type": "text", "baseline": "middle"},
       "encoding": {"x": {"field": "x", "type": "quantitative"}, "y": {"field": "y", "type": "quantitative"}, "text": {"field": "t"},
        "color": {"field": "k", "type": "nominal", "scale": {"domain": ["Bu", "Tu", "Cu", "Eu", "Bl", "Pl", "Tl", "Vl", "El", "hd", "lab", "sub", "val", "ms", "zis"], "range": ["#b23fcf", "#e2b878", "#45b3c8", "#1a1a1a", "#b23fcf", "#eaa6cc", "#e2b878", "#5c5cd0", "#d23cb0", "#1a1a1a", "#1a1a1a", "#1a1a1a", "#1a1a1a", "#c95070", "#1a1a1a"]}, "legend": null},
        "size": {"field": "k", "type": "ordinal", "scale": {"domain": ["hd", "lab", "sub", "val", "ms", "zis"], "range": [8.5, 8.8, 5.5, 7, 7.4, 6.5]}, "legend": null}}},
      {"data": {"name": "el"}, "mark": {"type": "text", "fontSize": 19, "align": "left", "baseline": "alphabetic", "color": "#111"},
       "encoding": {"x": {"field": "x", "type": "quantitative", "scale": {"domain": [223, 235], "nice": false, "zero": false}}, "y": {"field": "y", "type": "quantitative", "scale": {"domain": [0, 98], "nice": false}}, "text": {"field": "t"}}}
     ]
    }
   ]
  }
 ]
}
